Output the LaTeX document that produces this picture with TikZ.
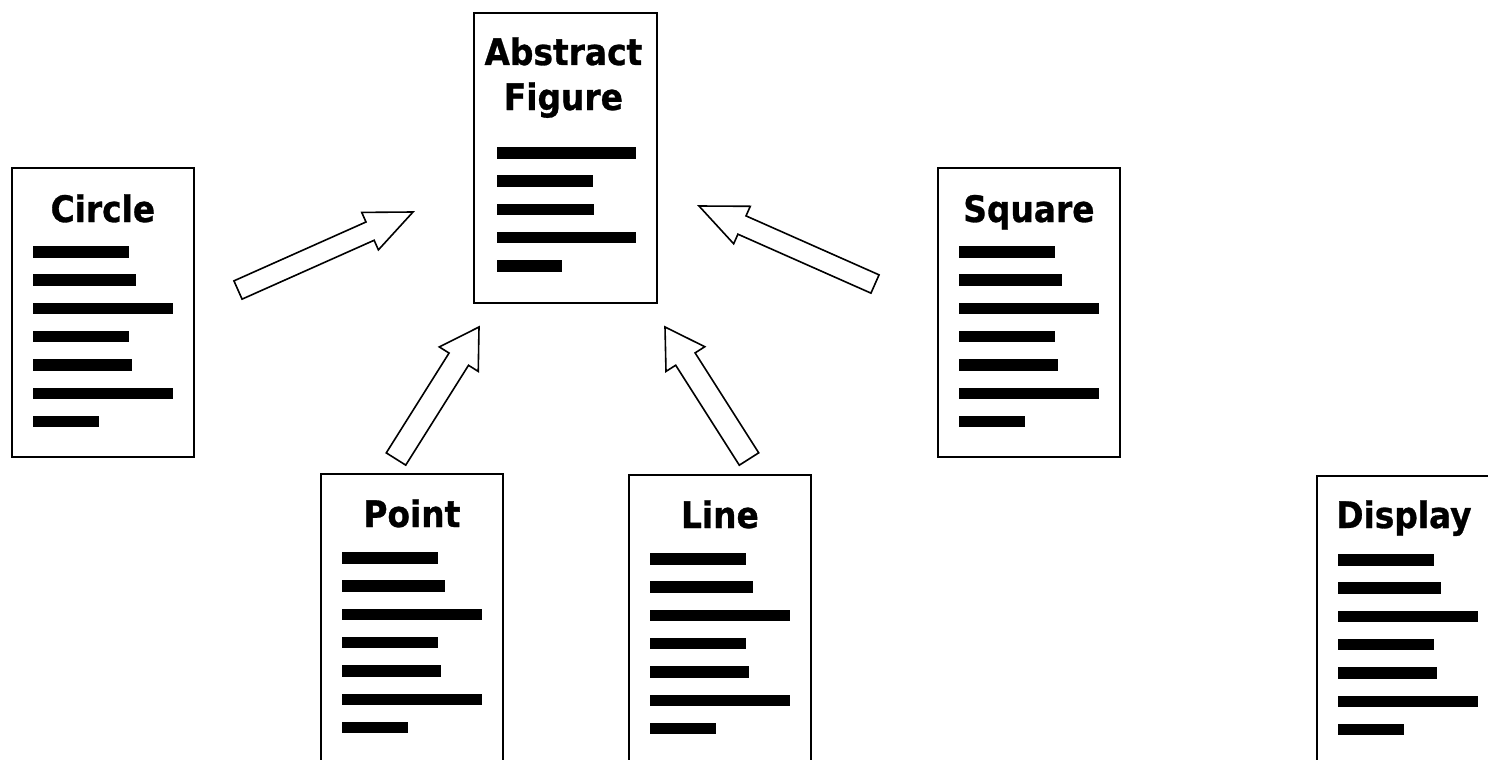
\documentclass[tikz,border=0pt]{standalone}
\usepackage{fontspec}
\setmainfont{DejaVu Sans Condensed}[BoldFeatures={FakeBold=0.8}]
\usetikzlibrary{calc}

\tikzset{
  doc/.style={draw, line width=1.8pt, fill=white, inner sep=0pt,
              minimum width=182pt, minimum height=289pt, anchor=north west},
  doctitle/.style={anchor=base, inner sep=0pt, align=center,
                   font=\fontsize{36.5}{45}\selectfont\bfseries},
  bar/.style={fill=black},
  blockarrow/.style={draw, fill=white, line width=1.6pt, line join=miter},
}

% seven text bars inside a document box
\newcommand\docbars[1]{%
  \foreach \w [count=\i from 0] in {96,103,140,96,99,140,66}
    \fill[bar] ($(#1.north west)+(22,79+28.33*\i)$) rectangle ++(\w,11.5);
}

% outlined block arrow: tail, tip, shaft half-width, head half-width, head length
\newcommand\blockarr[5]{%
  \coordinate (h-#2) at ($(#2)!#5!(#1)$);
  \draw[blockarrow]
    ($(#1)!#3!90:(#2)$) -- ($(h-#2)!#3!90:(#2)$) -- ($(h-#2)!#4!90:(#2)$)
    -- (#2)
    -- ($(h-#2)!#4!-90:(#2)$) -- ($(h-#2)!#3!-90:(#2)$) -- ($(#1)!#3!-90:(#2)$)
    -- cycle;
}

\begin{document}
\begin{tikzpicture}[x=1pt, y=-1pt]
  \useasboundingbox[fill=white] (0,0) rectangle (1488,760);

  % abstract figure
  \node[doc, minimum width=183pt, minimum height=290pt] (abstract) at (473,12) {};
  \node[doctitle] (abstract-t) at ($(abstract.north)+(-2,98)$) {Abstract\\Figure};
  \foreach \w [count=\i from 0] in {139,96,97,139,65}
    \fill[bar] ($(abstract.north west)+(24,135+28.33*\i)$) rectangle ++(\w,11.5);

  % concrete figures
  \node[doc] (circle) at (11,167) {};
  \node[doctitle] (circle-t) at ($(circle.north)+(0,55)$) {Circle};
  \docbars{circle}

  \node[doc] (square) at (937,167) {};
  \node[doctitle] (square-t) at ($(square.north)+(0,55)$) {Square};
  \docbars{square}

  \node[doc] (point) at (320,473) {};
  \node[doctitle] (point-t) at ($(point.north)+(0,54)$) {Point};
  \docbars{point}

  \node[doc] (line) at (628,474) {};
  \node[doctitle] (line-t) at ($(line.north)+(0,54)$) {Line};
  \docbars{line}

  \node[doc] (display) at (1316,475) {};
  \node[doctitle] (display-t) at ($(display.north)+(-4,53)$) {Display};
  \docbars{display}

  % inheritance arrows
  \coordinate (t1) at (238,290);  \coordinate (p1) at (413,212);
  \coordinate (t2) at (396,459);  \coordinate (p2) at (479,327);
  \coordinate (t3) at (749,459);  \coordinate (p3) at (665,327);
  \coordinate (t4) at (875,284);  \coordinate (p4) at (699,206);
  \blockarr{t1}{p1}{10pt}{20.5pt}{47pt}
  \blockarr{t2}{p2}{11.5pt}{23pt}{38pt}
  \blockarr{t3}{p3}{11.5pt}{23pt}{38pt}
  \blockarr{t4}{p4}{10pt}{20.5pt}{47pt}
\end{tikzpicture}
\end{document}
